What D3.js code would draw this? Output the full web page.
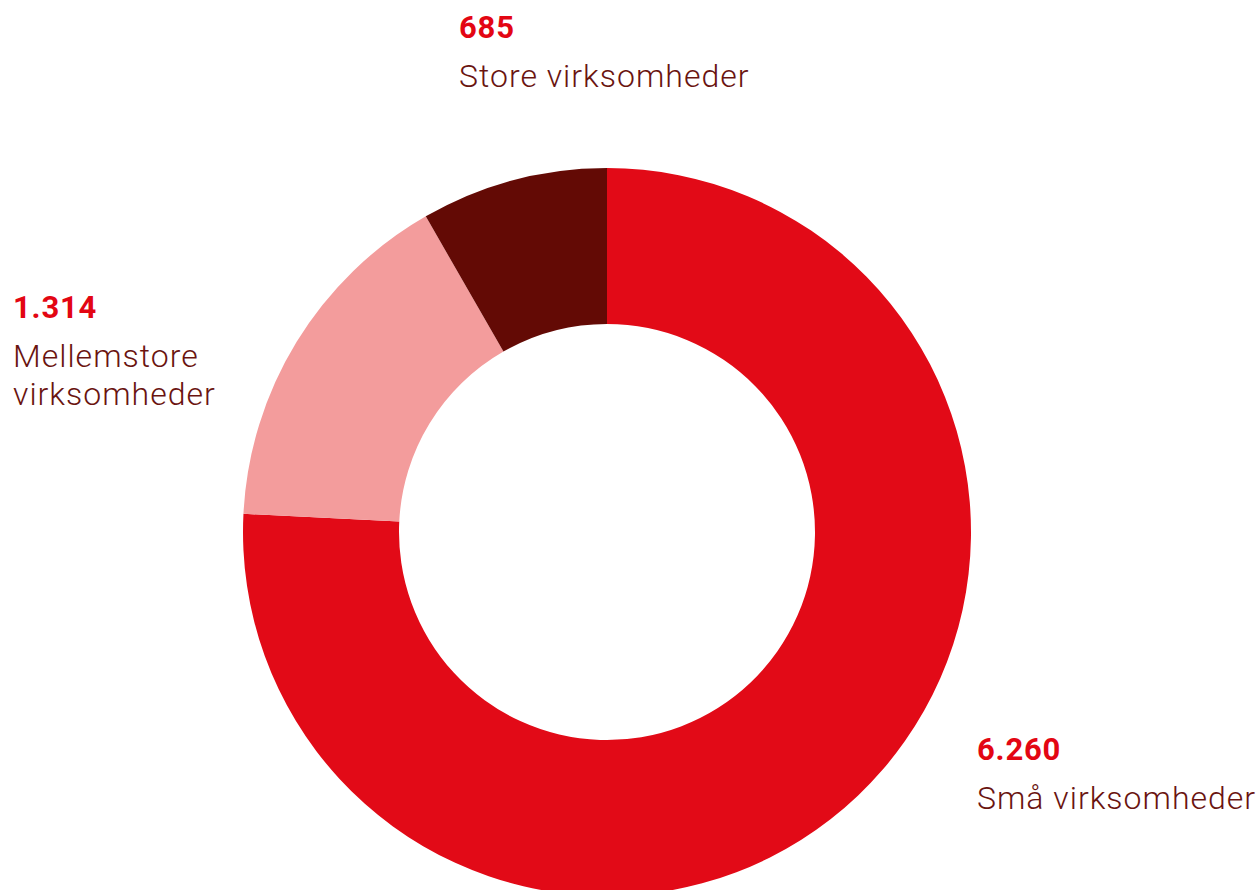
<!DOCTYPE html>
<html>
<head>
<meta charset="utf-8">
<script src="https://cdn.jsdelivr.net/npm/d3@7"></script>
<style>
  body { margin: 0; background: #fff; }
  text { font-family: Roboto, "Noto Sans", sans-serif; }
</style>
</head>
<body>
<div id="chart"></div>
<script>
// data
const categories = ["Små virksomheder", "Mellemstore virksomheder", "Store virksomheder"];
const values = [6260, 1314, 685];
const valueLabels = ["6.260", "1.314", "685"];
const labelLines = [["Små virksomheder"], ["Mellemstore", "virksomheder"], ["Store virksomheder"]];

const width = 1258, height = 890;
const cx = 607, cy = 532;
const outerR = 364, innerR = 208;

const color = d3.scaleOrdinal()
  .domain(categories)
  .range(["#e20a17", "#f39c9c", "#630a05"]);

const svg = d3.select("#chart").append("svg")
  .attr("width", width)
  .attr("height", height);

const g = svg.append("g")
  .attr("transform", `translate(${cx}, ${cy})`);

const pie = d3.pie().sort(null).value(d => d);
const arc = d3.arc().innerRadius(innerR).outerRadius(outerR);

g.selectAll("path")
  .data(pie(values))
  .enter().append("path")
  .attr("d", arc)
  .attr("fill", (d, i) => color(categories[i]));

// label positions (left x, baseline of number)
const labelPos = [[977, 760], [13, 318], [459, 38]];

labelPos.forEach(function(p, i) {
  svg.append("text")
    .attr("x", p[0]).attr("y", p[1])
    .attr("font-size", "31px")
    .attr("font-weight", "bold")
    .attr("letter-spacing", "0.8px")
    .attr("fill", "#e30613")
    .text(valueLabels[i]);
  labelLines[i].forEach(function(line, j) {
    svg.append("text")
      .attr("x", p[0]).attr("y", p[1] + 49 + j * 38)
      .attr("font-size", "32px")
      .attr("font-weight", 300)
      .attr("letter-spacing", "1px")
      .attr("fill", "#6a1410")
      .text(line);
  });
});
</script>
</body>
</html>
